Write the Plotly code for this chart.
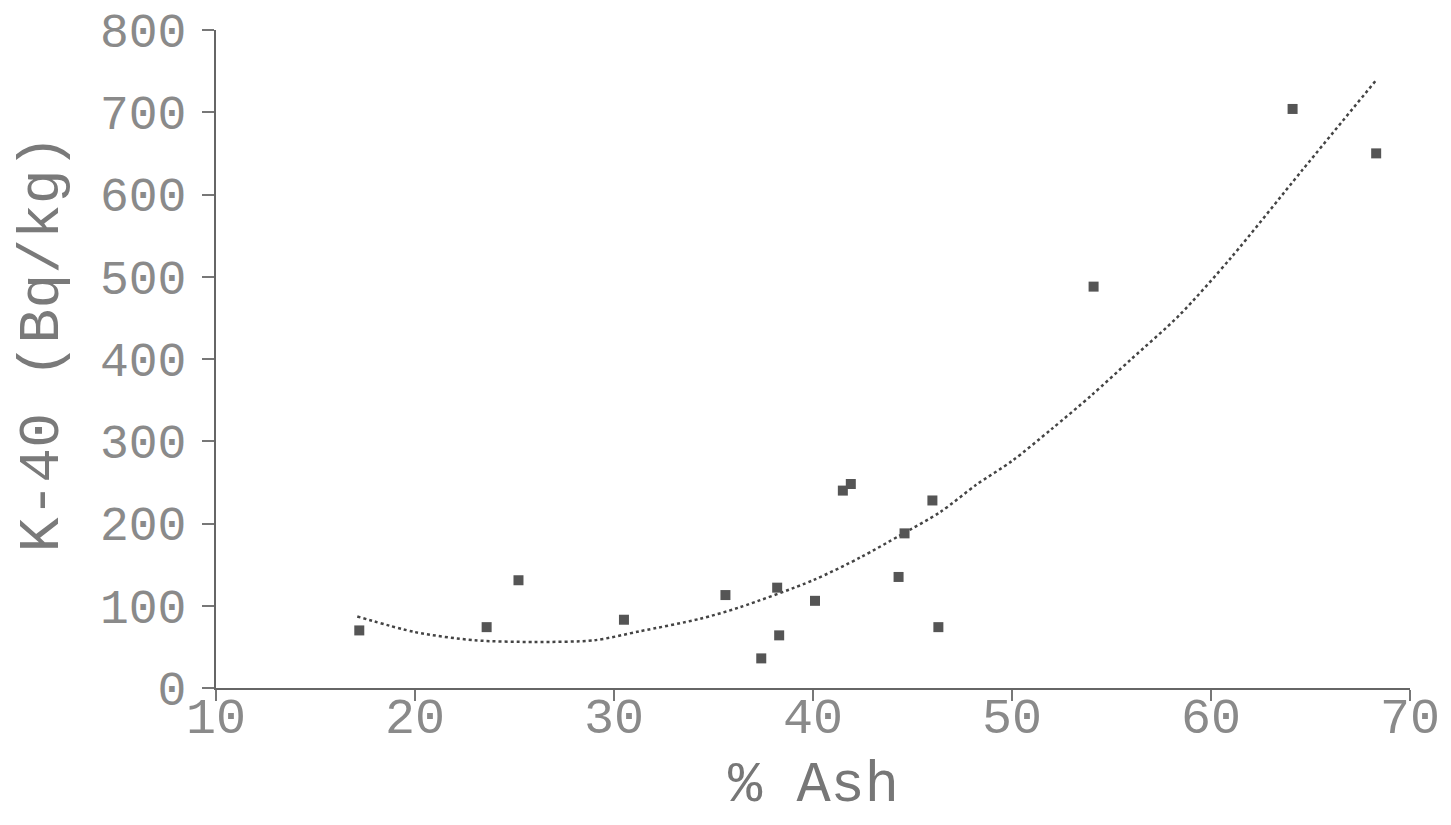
import plotly.graph_objects as go

# Measured data points (% Ash vs K-40 activity)
ash_pct = [17.2, 23.6, 25.2, 30.5, 35.6, 37.4, 38.2, 38.3, 40.1, 41.5, 41.9,
           44.3, 44.6, 46.0, 46.3, 54.1, 64.1, 68.3]
k40 = [70, 74, 131, 83, 113, 36, 122, 64, 106, 240, 248,
       135, 188, 228, 74, 488, 704, 650]

fit_x = [17.1, 20, 23, 26, 29, 31.3, 34.3, 36.3, 40, 42.4, 44.4, 46.4, 48.2,
         50, 52, 54, 56, 58.4, 61, 64.6, 68.3]
fit_y = [87, 68, 58, 56, 58, 69, 84, 98, 131, 159, 186, 214, 247,
         276, 315, 356, 400, 453, 523, 630, 739]

x_ticks = [10, 20, 30, 40, 50, 60, 70]
y_ticks = [0, 100, 200, 300, 400, 500, 600, 700, 800]

FONT = "Liberation Mono"

fig = go.Figure()
fig.add_trace(go.Scatter(
    x=fit_x, y=fit_y, mode="lines",
    line=dict(color="#444444", width=2.5, dash="dot", shape="spline", smoothing=0.8),
    hoverinfo="skip", showlegend=False))
fig.add_trace(go.Scatter(
    x=ash_pct, y=k40, mode="markers",
    marker=dict(symbol="square", size=10, color="#555555"),
    showlegend=False))

fig.update_layout(
    width=1435, height=809,
    paper_bgcolor="white", plot_bgcolor="white",
    margin=dict(l=208, r=33, t=22, b=129, autoexpand=False),
    font=dict(family=FONT, color="#8a8a8a"),
    xaxis=dict(range=[10, 70], tickvals=x_ticks, ticktext=[str(v) for v in x_ticks],
               automargin=False, ticklabeloverflow="allow",
               showgrid=False, zeroline=False, showline=True, linecolor="#666666",
               linewidth=2, ticks="outside", ticklen=11, tickwidth=2, tickcolor="#777777",
               ticklabelstandoff=-28,
               tickfont=dict(family=FONT, size=50, color="#8a8a8a")),
    yaxis=dict(range=[0, 800], tickvals=y_ticks, ticktext=[str(v) for v in y_ticks],
               automargin=False, ticklabeloverflow="allow",
               showgrid=False, zeroline=False, showline=True, linecolor="#666666",
               linewidth=2, ticks="outside", ticklen=12, tickwidth=2, tickcolor="#777777",
               ticklabelstandoff=6,
               tickfont=dict(family=FONT, size=48, color="#8a8a8a")),
    annotations=[
        dict(text="% Ash", xref="paper", yref="paper", x=0.5, y=-0.2,
             xanchor="center", yanchor="bottom", showarrow=False,
             font=dict(family=FONT, size=57, color="#777777")),
        dict(text="K-40 (Bq/kg)", xref="paper", yref="paper", x=-0.1457, y=0.524,
             xanchor="center", yanchor="middle", textangle=-90, showarrow=False,
             font=dict(family=FONT, size=58, color="#7a7a7a")),
    ],
)

fig.write_html("out.html")
